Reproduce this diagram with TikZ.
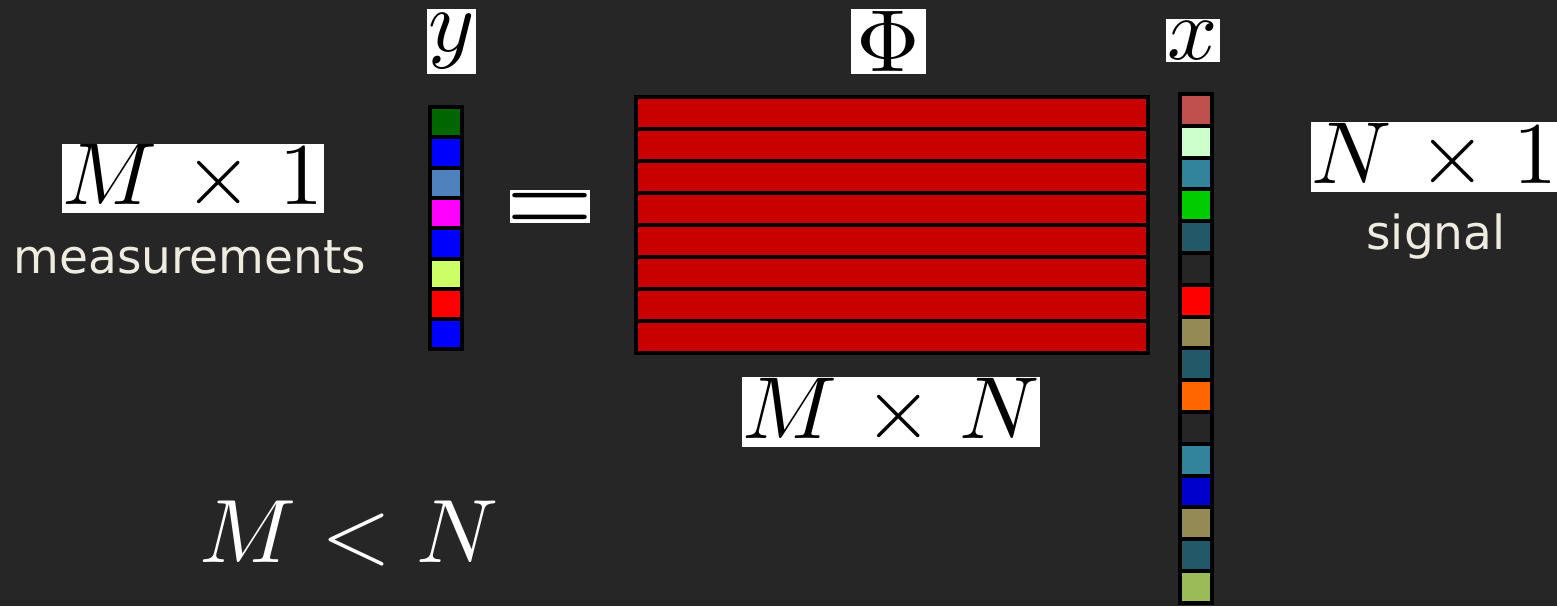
\documentclass[tikz,border=0pt]{standalone}
\usepackage[no-math]{fontspec}
\newfontfamily\labelfont{DejaVu Sans}
% scale the 10pt Computer Modern designs to any size
\DeclareFontShape{OT1}{cmr}{m}{n}{<-> cmr10}{}
\DeclareFontShape{OML}{cmm}{m}{it}{<-> cmmi10}{}
\DeclareFontShape{OMS}{cmsy}{m}{n}{<-> cmsy10}{}
\DeclareFontShape{OMX}{cmex}{m}{n}{<-> cmex10}{}
\newcommand{\bytimes}{\mskip1.5mu\times\mskip1.5mu}
\definecolor{bg}{HTML}{262626}
\definecolor{capt}{HTML}{EEECE1}
\definecolor{phired}{HTML}{C80000}
\definecolor{ygreen}{HTML}{006600}
\definecolor{yblue}{HTML}{0000FF}
\definecolor{ysteel}{HTML}{4F81BD}
\definecolor{ymag}{HTML}{FF00FF}
\definecolor{ylime}{HTML}{CCFF66}
\definecolor{yred}{HTML}{FF0000}
\definecolor{xbrick}{HTML}{C0504D}
\definecolor{xmint}{HTML}{CCFFCC}
\definecolor{xteal}{HTML}{31849B}
\definecolor{xgreen}{HTML}{00CC00}
\definecolor{xpetrol}{HTML}{215968}
\definecolor{xdark}{HTML}{262626}
\definecolor{xred}{HTML}{FF0000}
\definecolor{xolive}{HTML}{948A54}
\definecolor{xorange}{HTML}{FF6600}
\definecolor{xnavy}{HTML}{0000CC}
\definecolor{xmoss}{HTML}{9BBB59}

\begin{document}
\begin{tikzpicture}[x=1pt,y=-1pt,
    cell/.style={draw=black, line width=4pt, inner sep=0pt, outer sep=0pt,
                 minimum width=32pt},
    texbox/.style={fill=white, text=black, inner xsep=0.5pt, inner ysep=1pt,
                   font=\fontsize{88}{88}\selectfont},
    caption/.style={text=capt, anchor=base,
                    font=\labelfont\fontsize{47}{47}\selectfont},
]
\fill[bg] (0,0) rectangle (1557,606);
\useasboundingbox (0,0) rectangle (1557,606);

% measurement vector y
\foreach \c [count=\i] in {ygreen,yblue,ysteel,ymag,yblue,ylime,yred,yblue}
  \node[cell, minimum height=30.3pt, fill=\c] (y\i) at (446,{107+15.15+(\i-1)*30.3}) {};

% sensing matrix Phi, one row per measurement
\foreach \i in {1,...,8}
  \node[cell, minimum width=512pt, minimum height=32pt, fill=phired] (row\i) at (892,{97+16+(\i-1)*32}) {};

% signal vector x
\foreach \c [count=\i] in {xbrick,xmint,xteal,xgreen,xpetrol,xdark,xred,xolive,
                           xpetrol,xorange,xdark,xteal,xnavy,xolive,xpetrol,xmoss}
  \node[cell, minimum height=31.8pt, fill=\c] (x\i) at (1196,{94+15.9+(\i-1)*31.8}) {};

% symbols
\node[texbox, minimum width=49pt, minimum height=65pt] (ylbl) at (451.5,41.5) {$y$};
\node[texbox, minimum width=75pt, minimum height=65pt] (philbl) at (888.5,41.5) {$\Phi$};
\node[texbox, minimum width=54pt, minimum height=43pt] (xlbl) at (1193,40.5) {$x$};
\node[texbox, inner sep=0pt, minimum width=80pt, minimum height=33pt,
      font=\fontsize{112}{112}\selectfont] (eq) at (550,206.5)
     {\smash{\makebox[0pt]{\raisebox{-0.25em}{$=$}}}};

% dimensions
\node[texbox] (mdim) at (193,178.5) {$M \bytimes 1$};
\node[texbox] (ndim) at (1434.5,157) {$N \bytimes 1$};
\node[texbox] (phidim) at (891,412) {$M \bytimes N$};
\node[text=white, font=\fontsize{90}{90}\selectfont] (cond) at (349.5,533) {$M < N$};

% captions
\node[caption] (meas) at (190,273) {measurements};
\node[caption] (sig) at (1436,249) {signal};
\end{tikzpicture}
\end{document}
